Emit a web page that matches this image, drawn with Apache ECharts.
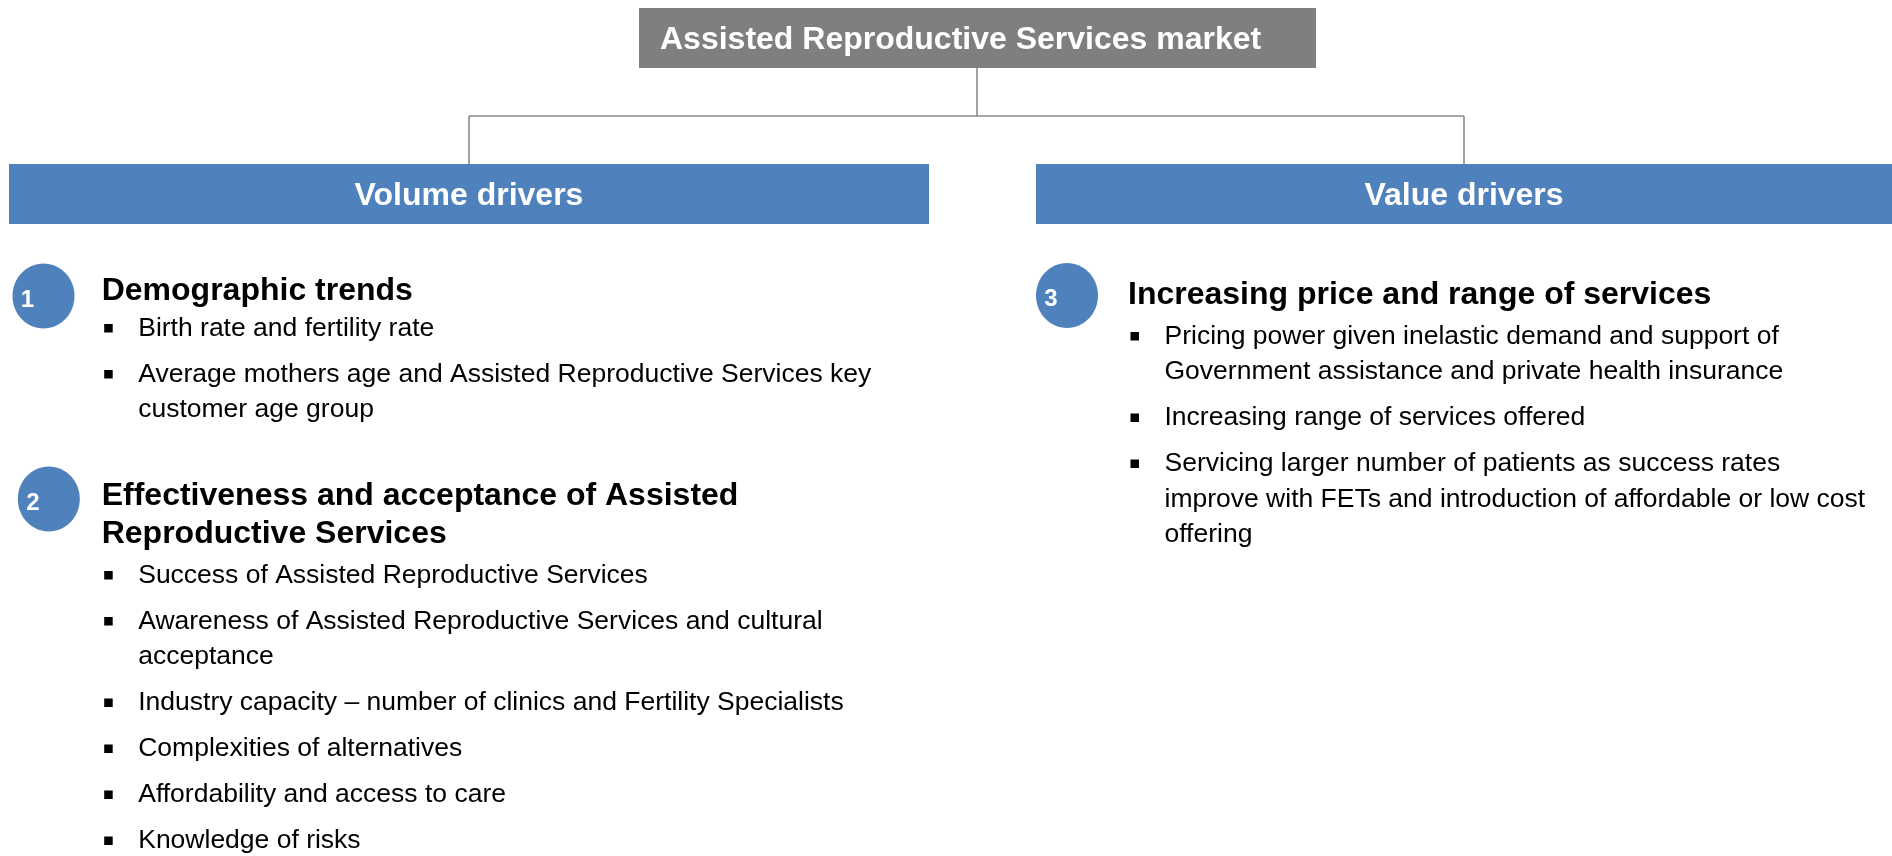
<!DOCTYPE html>
<html lang="en">
<head>
    <meta charset="UTF-8">
    <title>Assisted Reproductive Services market</title>
    <script src="https://cdn.jsdelivr.net/npm/echarts@6/dist/echarts.min.js"></script>
    <style>
        body { margin: 0; background: #fff; }
        #main { width: 1892px; height: 856px; }
    </style>
</head>
<body>
<div id="main"></div>
<script>
    // content of the driver tree
    var titleText = 'Assisted Reproductive Services market';
    var branchLabels = ['Volume drivers', 'Value drivers'];
    var sectionNums = ['1', '2', '3'];
    var sectionHeads = [
        ['Demographic trends'],
        ['Effectiveness and acceptance of Assisted', 'Reproductive Services'],
        ['Increasing price and range of services']
    ];
    var sectionBullets = [
        [
            ['Birth rate and fertility rate'],
            ['Average mothers age and Assisted Reproductive Services key', 'customer age group']
        ],
        [
            ['Success of Assisted Reproductive Services'],
            ['Awareness of Assisted Reproductive Services and cultural', 'acceptance'],
            ['Industry capacity \u2013 number of clinics and Fertility Specialists'],
            ['Complexities of alternatives'],
            ['Affordability and access to care'],
            ['Knowledge of risks']
        ],
        [
            ['Pricing power given inelastic demand and support of', 'Government assistance and private health insurance'],
            ['Increasing range of services offered'],
            ['Servicing larger number of patients as success rates', 'improve with FETs and introduction of affordable or low cost', 'offering']
        ]
    ];

    var FONT = '"Liberation Sans", Arial, sans-serif';
    var BLUE = '#4f81bd';
    var LINE = '#8a8a8a';

    // where things sit on the page
    var titleBox = {x: 639, y: 8, w: 677, h: 60};
    var branchBoxes = [{x: 9, y: 164, w: 920, h: 60}, {x: 1036, y: 164, w: 856, h: 60}];
    var branchCenters = [469, 1464];
    var sectionPos = [
        {cx: 43.5, cy: 296, x: 101.7, y: 291, gap: 37.5},
        {cx: 48.8, cy: 499, x: 101.7, y: 496, gap: 41},
        {cx: 1067, cy: 295.5, x: 1128, y: 295.5, gap: 41}
    ];
    var headLineH = 38.5, lineH = 35.5, itemGap = 46;

    var els = [];

    // title box
    els.push({type: 'rect', shape: {x: titleBox.x, y: titleBox.y, width: titleBox.w, height: titleBox.h},
        style: {fill: '#7f7f7f'}});
    els.push({type: 'text', x: 660, y: 40, style: {text: titleText, fill: '#fff',
        font: 'bold 32px ' + FONT, textAlign: 'left', textVerticalAlign: 'middle'}});

    // connectors
    var midX = titleBox.x + titleBox.w / 2 - 0.5;
    var lines = [
        [midX, titleBox.y + titleBox.h, midX, 116],
        [branchCenters[0], 116, branchCenters[1], 116],
        [branchCenters[0], 116, branchCenters[0], 164],
        [branchCenters[1], 116, branchCenters[1], 164]
    ];
    lines.forEach(function (l) {
        els.push({type: 'line', shape: {x1: l[0], y1: l[1], x2: l[2], y2: l[3]},
            style: {stroke: LINE, lineWidth: 1.6}});
    });

    // branch bars
    branchLabels.forEach(function (lab, i) {
        var b = branchBoxes[i];
        els.push({type: 'rect', shape: {x: b.x, y: b.y, width: b.w, height: b.h}, style: {fill: BLUE}});
        els.push({type: 'text', x: branchCenters[i], y: b.y + b.h / 2 + 2, style: {text: lab, fill: '#fff',
            font: 'bold 32px ' + FONT, textAlign: 'center', textVerticalAlign: 'middle'}});
    });

    // sections
    sectionHeads.forEach(function (head, s) {
        var p = sectionPos[s];
        els.push({type: 'ellipse', shape: {cx: p.cx, cy: p.cy, rx: 31, ry: 32.5}, style: {fill: BLUE}});
        els.push({type: 'text', x: p.cx - 16, y: p.cy + 4, style: {text: sectionNums[s], fill: '#fff',
            font: 'bold 24px ' + FONT, textAlign: 'center', textVerticalAlign: 'middle'}});
        var y = p.y;
        head.forEach(function (t, k) {
            if (k > 0) y += headLineH;
            els.push({type: 'text', x: p.x, y: y, style: {text: t, fill: '#000',
                font: 'bold 32px ' + FONT, textAlign: 'left', textVerticalAlign: 'middle'}});
        });
        y += p.gap;
        sectionBullets[s].forEach(function (item, j) {
            if (j > 0) y += itemGap;
            els.push({type: 'rect', shape: {x: p.x + 2.5, y: y - 4.5, width: 8.5, height: 8.5}, style: {fill: '#000'}});
            item.forEach(function (t, k) {
                if (k > 0) y += lineH;
                els.push({type: 'text', x: p.x + 36.5, y: y, style: {text: t, fill: '#000',
                    font: '26.5px ' + FONT, textAlign: 'left', textVerticalAlign: 'middle'}});
            });
        });
    });

    var chart = echarts.init(document.getElementById('main'));
    chart.setOption({
        animation: false,
        backgroundColor: '#fff',
        graphic: {elements: els}
    });
</script>
</body>
</html>
